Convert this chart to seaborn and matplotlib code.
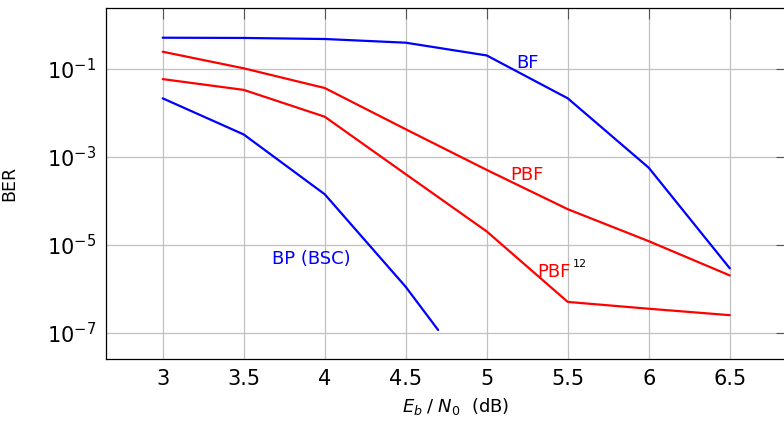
import numpy as np
import pandas as pd
import matplotlib
matplotlib.use("Agg")
import matplotlib.pyplot as plt
from matplotlib.ticker import LogFormatterMathtext, FixedLocator, NullLocator
import seaborn as sns

# Eb/N0 grid (dB) and bit error rates per decoder
ebn0 = [3.0, 3.5, 4.0, 4.5, 5.0, 5.5, 6.0, 6.5]
ber_bf = [0.506, 0.50, 0.473, 0.39, 0.20, 0.0212, 5.6e-4, 2.9e-6]
ber_pbf = [0.243, 0.102, 0.0364, 4.2e-3, 5.0e-4, 6.4e-5, 1.2e-5, 2.0e-6]
ber_pbf12 = [0.058, 0.033, 8.1e-3, 4.0e-4, 2.0e-5, 5.0e-7, 3.5e-7, 2.5e-7]
ebn0_bp = [3.0, 3.5, 4.0, 4.5, 4.7]
ber_bp = [0.0212, 3.2e-3, 1.4e-4, 1.1e-6, 1.15e-7]

x_ticks = [3, 3.5, 4, 4.5, 5, 5.5, 6, 6.5]
x_tick_labels = ["3", "3.5", "4", "4.5", "5", "5.5", "6", "6.5"]
y_ticks = [1e-1, 1e-3, 1e-5, 1e-7]

BLUE = "#0000ff"
RED = "#ff0000"

sns.set_style("white")
plt.rcParams["font.family"] = ["DejaVu Sans"]
plt.rcParams["mathtext.fontset"] = "dejavusans"
plt.rcParams["text.color"] = "black"
plt.rcParams["axes.labelcolor"] = "black"
plt.rcParams["xtick.labelcolor"] = "black"
plt.rcParams["ytick.labelcolor"] = "black"

fig = plt.figure(figsize=(7.84, 4.23), dpi=100)
ax = fig.add_axes([0.1352, 0.1506, 0.868, 0.8298])

series = [
    (ebn0, ber_bf, BLUE),
    (ebn0, ber_pbf, RED),
    (ebn0, ber_pbf12, RED),
    (ebn0_bp, ber_bp, BLUE),
]
for xs, ys, col in series:
    sns.lineplot(x=xs, y=ys, ax=ax, color=col, linewidth=1.6, sort=False)

ax.set_yscale("log")
ax.set_xlim(2.65, 6.85)
ax.set_ylim(10 ** -7.605, 10 ** 0.373)

ax.set_xticks(x_ticks)
ax.set_xticklabels(x_tick_labels)
ax.yaxis.set_major_locator(FixedLocator(y_ticks))
ax.yaxis.set_major_formatter(LogFormatterMathtext())
ax.yaxis.set_minor_locator(NullLocator())

ax.grid(True, which="major", color="#c0c0c0", linewidth=0.9)
ax.set_axisbelow(True)
for sp in ax.spines.values():
    sp.set_visible(True)
    sp.set_color("black")
    sp.set_linewidth(0.9)

ax.tick_params(axis="both", which="major", direction="in", length=8,
               width=0.8, color="#555555", labelsize=15,
               labelcolor="black", top=True, right=True)
ax.tick_params(axis="x", pad=7)
ax.tick_params(axis="y", pad=7)

ax.set_xlabel(r"$E_b\;/\;N_0$  (dB)", fontsize=13, color="black")
ax.set_ylabel("BER", fontsize=12.5, color="black")
ax.xaxis.set_label_coords((456 - 106) / (786.6 - 106), -0.105)
ax.yaxis.set_label_coords(-(106 - 18) / (786.6 - 106), 0.5)

# curve labels
ax.text(5.181, 10 ** -0.991, "BF", color=BLUE, fontsize=13,
        ha="left", va="baseline")
ax.text(5.144, 10 ** -3.53, "PBF", color=RED, fontsize=13,
        ha="left", va="baseline")
ax.text(5.313, 10 ** -5.727, "PBF", color=RED, fontsize=13,
        ha="left", va="baseline")
ax.text(5.533, 10 ** -5.514, "12", color="black", fontsize=8,
        ha="left", va="baseline")
ax.text(3.674, 10 ** -5.445, "BP (BSC)", color=BLUE, fontsize=13,
        ha="left", va="baseline")

fig.savefig("out.png", dpi=100)
